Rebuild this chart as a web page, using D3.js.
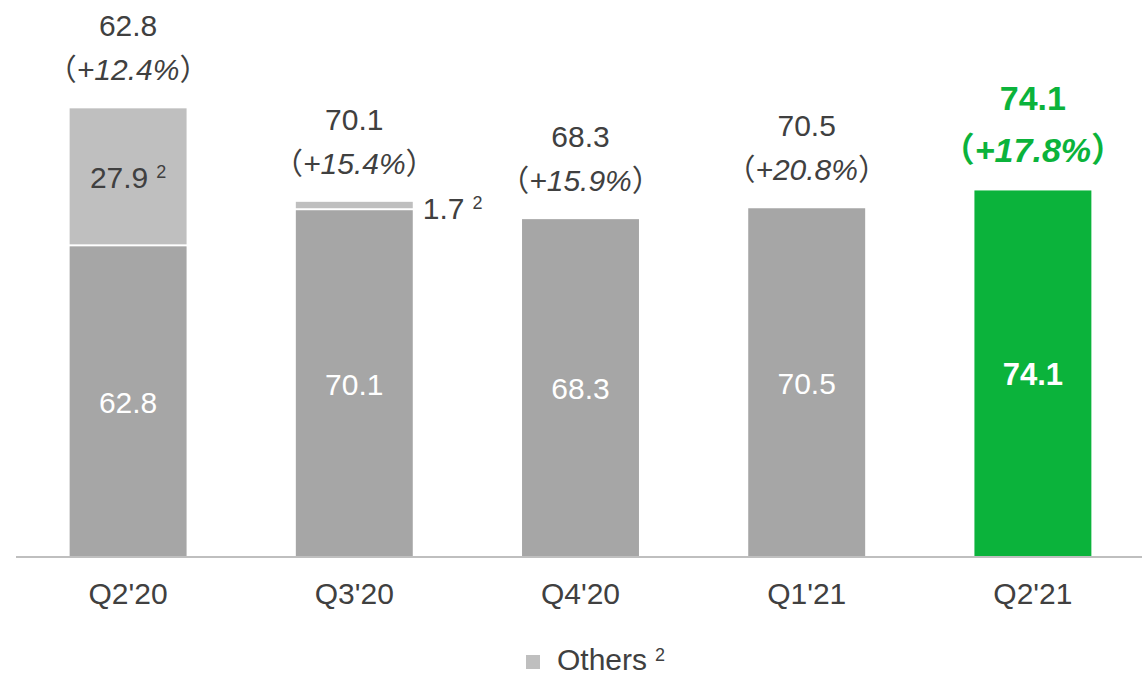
<!DOCTYPE html>
<html>
<head>
<meta charset="utf-8">
<script src="https://cdn.jsdelivr.net/npm/d3@7"></script>
<style>
  html, body { margin: 0; padding: 0; background: #fff; }
  svg { display: block; }
  text { font-family: "Liberation Sans", Arial, "Noto Sans CJK JP", sans-serif; }
</style>
</head>
<body>
<svg id="chart" width="1142" height="678"></svg>
<script>
// Quarterly revenue: core business plus one-off "Others" portion
const quarters = ["Q2'20", "Q3'20", "Q4'20", "Q1'21", "Q2'21"];
const coreValues = [62.8, 70.1, 68.3, 70.5, 74.1];
const otherValues = [27.9, 1.7, 0, 0, 0];
const growthLabels = ["+12.4%", "+15.4%", "+15.9%", "+20.8%", "+17.8%"];
const highlightIndex = 4;

const W = 1142, H = 678;
const baseY = 557;
const GREY = "#a6a6a6", LIGHT = "#bfbfbf", GREEN = "#0bb33b", TEXT = "#404040";

const svg = d3.select("#chart");

const x = d3.scaleBand().domain(quarters).range([15, 1146]).paddingInner(0.483).paddingOuter(0.2415);
const y = d3.scaleLinear().domain([0, 112.6]).range([baseY, 0]);

const rows = quarters.map((q, i) => ({
  q, i, core: coreValues[i], other: otherValues[i], growth: growthLabels[i]
}));

// Core segments
svg.append("g").selectAll("rect.core").data(rows).join("rect")
  .attr("class", "core")
  .attr("x", d => x(d.q))
  .attr("width", x.bandwidth())
  .attr("y", d => y(d.core))
  .attr("height", d => baseY - y(d.core))
  .attr("fill", d => d.i === highlightIndex ? GREEN : GREY);

// "Others" segments stacked on top, separated by a thin white gap
svg.append("g").selectAll("rect.other").data(rows.filter(d => d.other > 0)).join("rect")
  .attr("class", "other")
  .attr("x", d => x(d.q))
  .attr("width", x.bandwidth())
  .attr("y", d => y(d.core + d.other))
  .attr("height", d => Math.max(0, y(d.core) - y(d.core + d.other) - 2))
  .attr("fill", LIGHT);

// Axis baseline and category labels
const axis = svg.append("g")
  .attr("transform", `translate(0,${baseY})`)
  .call(d3.axisBottom(x).tickSize(0).tickPadding(26));
axis.select(".domain").attr("stroke", LIGHT).attr("stroke-width", 2).attr("d", "M16,0H1142");
axis.selectAll("text")
  .attr("fill", TEXT)
  .attr("font-size", 30)
  .attr("font-family", "Liberation Sans, Arial, sans-serif");

// Values inside the core segments
svg.append("g").selectAll("text").data(rows).join("text")
  .attr("x", d => x(d.q) + x.bandwidth() / 2)
  .attr("y", d => (y(d.core) + baseY) / 2 + 11)
  .attr("text-anchor", "middle")
  .attr("fill", "#fff")
  .attr("font-size", d => d.i === highlightIndex ? 31 : 30)
  .attr("font-weight", d => d.i === highlightIndex ? "bold" : "normal")
  .text(d => d.core.toFixed(1));

// Labels for the "Others" segments (inside when tall enough, otherwise beside)
rows.filter(d => d.other > 0).forEach(d => {
  const top = y(d.core + d.other), bot = y(d.core);
  const inside = (bot - top) > 40;
  const t = svg.append("text")
    .attr("fill", TEXT)
    .attr("font-size", 30)
    .attr("text-anchor", inside ? "middle" : "start")
    .attr("x", inside ? x(d.q) + x.bandwidth() / 2 : x(d.q) + x.bandwidth() + 10)
    .attr("y", (top + bot) / 2 + (inside ? 11 : 13));
  t.append("tspan").text(d.other.toFixed(1));
  t.append("tspan").attr("dx", 8).attr("dy", -10).attr("font-size", 18).text("2");
});

// Totals with year-over-year growth above each bar
rows.forEach(d => {
  const hl = d.i === highlightIndex;
  const top = y(d.core + d.other);
  const cx = x(d.q) + x.bandwidth() / 2;
  const color = hl ? GREEN : TEXT;
  const fs = hl ? 34 : 30;
  const line2 = top - 28;
  const line1 = line2 - (hl ? 52 : 44);
  svg.append("text")
    .attr("x", cx).attr("y", line1)
    .attr("text-anchor", "middle")
    .attr("fill", color)
    .attr("font-size", fs)
    .attr("font-weight", hl ? "bold" : "normal")
    .text(d.core.toFixed(1));
  const g = svg.append("text")
    .attr("x", cx).attr("y", line2)
    .attr("text-anchor", "middle")
    .attr("fill", color)
    .attr("font-size", fs)
    .attr("font-weight", hl ? "bold" : "normal");
  g.append("tspan").text("（");
  g.append("tspan").attr("font-style", "italic").text(d.growth);
  g.append("tspan").text("）");
});

// Legend
const legend = svg.append("g");
legend.append("rect").attr("x", 526).attr("y", 655).attr("width", 14).attr("height", 14).attr("fill", LIGHT);
const lt = legend.append("text").attr("x", 557).attr("y", 670).attr("fill", TEXT).attr("font-size", 30);
lt.append("tspan").text("Others");
lt.append("tspan").attr("dx", 8).attr("dy", -9).attr("font-size", 18).text("2");
</script>
</body>
</html>
